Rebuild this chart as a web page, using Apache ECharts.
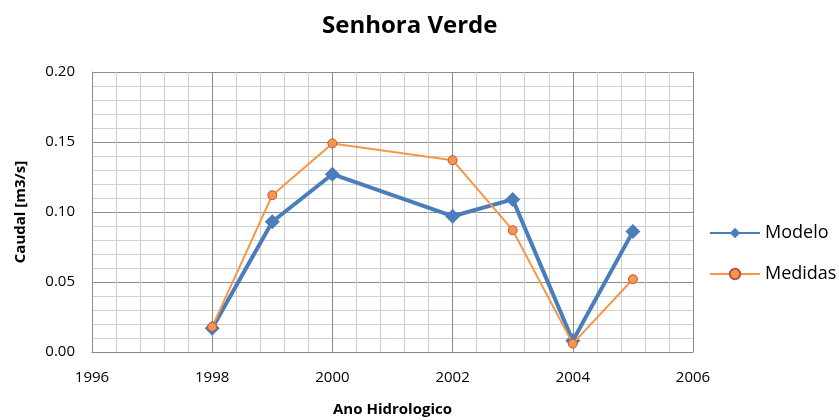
<!DOCTYPE html>
<html>
<head>
    <meta charset="utf-8">
    <title>Senhora Verde</title>
    <script src="https://cdn.jsdelivr.net/npm/echarts@6/dist/echarts.min.js"></script>
</head>
<style>
    body{ margin:0; background:#fff; }
    #main{ width:839px; height:420px; }
</style>
<body>
<div id="main"></div>
<script>
    // anos hidrologicos e caudais (m3/s)
    var anos = [1998, 1999, 2000, 2002, 2003, 2004, 2005];
    var modelo = [0.017, 0.093, 0.127, 0.097, 0.109, 0.008, 0.086];
    var medidas = [0.018, 0.112, 0.149, 0.137, 0.087, 0.006, 0.052];

    function pares(xs, ys){
        var out = [];
        for (var i = 0; i < xs.length; i++) { out.push([xs[i], ys[i]]); }
        return out;
    }

    var fonte = '"Open Sans", "Noto Sans", sans-serif';
    var myChart = echarts.init(document.getElementById('main'));
    var option = {
        animation: false,
        title: {
            text: 'Senhora Verde', left: 317, top: 9,
            textStyle: {fontSize: 24, fontWeight: 'bold', color: '#000', fontFamily: fonte}
        },
        legend: {
            orient: 'vertical', left: 704, top: 219, itemGap: 23,
            itemWidth: 50, itemHeight: 13,
            textStyle: {fontSize: 18, color: '#000', fontFamily: fonte},
            data: ['Modelo', 'Medidas']
        },
        grid: {left: 92, right: 146, top: 72, bottom: 68, outerBoundsMode: 'none'},
        xAxis: {
            type: 'value', min: 1996, max: 2006, interval: 2,
            name: 'Ano Hidrologico', nameLocation: 'middle', nameGap: 50,
            nameTextStyle: {fontSize: 15, fontWeight: 'bold', color: '#000', fontFamily: fonte},
            axisLine: {show: true, lineStyle: {color: '#888'}},
            axisTick: {show: false},
            axisLabel: {fontSize: 15, color: '#000', margin: 18, fontFamily: fonte,
                formatter: function (v) { return String(v); }},
            splitLine: {show: true, lineStyle: {color: '#8c8c8c', width: 1}},
            minorTick: {show: false, splitNumber: 5},
            minorSplitLine: {show: true, lineStyle: {color: '#cfcfcf', width: 1}}
        },
        yAxis: {
            type: 'value', min: 0, max: 0.2, interval: 0.05,
            name: 'Caudal [m3/s]', nameLocation: 'middle', nameGap: 64,
            nameTextStyle: {fontSize: 15, fontWeight: 'bold', color: '#000', fontFamily: fonte},
            axisLine: {show: true, lineStyle: {color: '#888'}},
            axisTick: {show: false},
            axisLabel: {fontSize: 15, color: '#000', margin: 17, fontFamily: fonte,
                formatter: function (v) { return v.toFixed(2); }},
            splitLine: {show: true, lineStyle: {color: '#8c8c8c', width: 1}},
            minorTick: {show: false, splitNumber: 5},
            minorSplitLine: {show: true, lineStyle: {color: '#cfcfcf', width: 1}}
        },
        series: [
            {
                name: 'Modelo', type: 'line', data: pares(anos, modelo),
                symbol: 'diamond', symbolSize: 15, z: 2,
                lineStyle: {color: '#4a7ebb', width: 4},
                itemStyle: {color: '#4a7ebb'}
            },
            {
                name: 'Medidas', type: 'line', data: pares(anos, medidas),
                symbol: 'circle', symbolSize: 9, z: 3,
                lineStyle: {color: '#f79646', width: 2},
                itemStyle: {color: '#f79646', borderColor: '#c0504d', borderWidth: 1}
            }
        ]
    };
    myChart.setOption(option);
</script>
</body>
</html>
